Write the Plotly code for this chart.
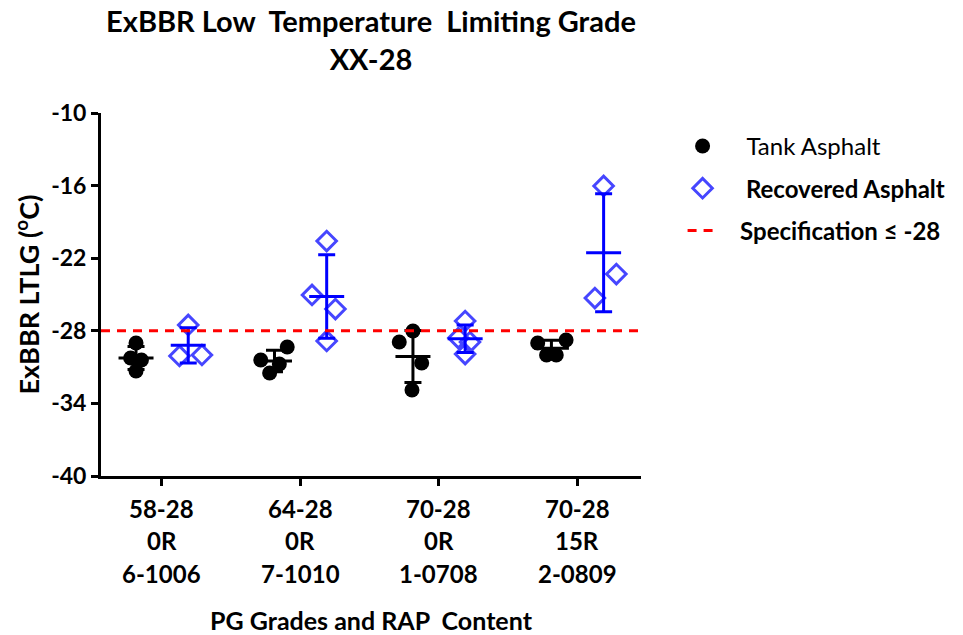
import numpy as np
import plotly.graph_objects as go

# ---- data ----
GRADES = ["58-28", "64-28", "70-28", "70-28"]
RAP = ["0R", "0R", "0R", "15R"]
SAMPLES = ["6-1006", "7-1010", "1-0708", "2-0809"]

TANK = [
    [-29.01, -30.25, -30.41, -31.32],
    [-29.34, -30.41, -30.74, -31.49],
    [-28.02, -28.93, -30.66, -32.89],
    [-29.01, -28.76, -30.00, -30.00],
]
RECOVERED = [
    [-27.52, -30.08, -30.00],
    [-20.58, -25.04, -26.20, -28.84],
    [-27.19, -28.60, -28.93, -29.92],
    [-16.03, -23.31, -25.29],
]
SPEC = -28
Y_TICKS = [-10, -16, -22, -28, -34, -40]

# ---- layout helpers (horizontal scatter of points within a column) ----
TANK_OFF = -0.187
REC_OFF = 0.19
TANK_JITTER = [
    [0, -0.039, 0.039, 0],
    [0.092, -0.099, 0.035, -0.035],
    [0, -0.099, 0.063, -0.007],
    [-0.099, 0.106, -0.035, 0.035],
]
REC_JITTER = [
    [0, -0.063, 0.099],
    [0, -0.106, 0.063, 0],
    [0, -0.049, 0.035, 0],
    [0, 0.092, -0.063],
]
X_RANGE = [-0.44, 3.46]
FONT = "Lato"
BLUE_MK = "#4646ff"
BLUE = "#0000ff"
NB = "\u00a0"

fig = go.Figure()

def pts(groups, jit, off):
    xs, ys = [], []
    for i, (g, j) in enumerate(zip(groups, jit)):
        for v, d in zip(g, j):
            xs.append(i + off + d)
            ys.append(v)
    return xs, ys

tx, ty = pts(TANK, TANK_JITTER, TANK_OFF)
rx, ry = pts(RECOVERED, REC_JITTER, REC_OFF)

fig.add_trace(go.Scatter(
    x=tx, y=ty, mode="markers", name=NB * 4 + "Tank Asphalt", legendgroup="a",
    marker=dict(symbol="circle", size=15, color="black"),
))
fig.add_trace(go.Scatter(
    x=rx, y=ry, mode="markers", name="<b>" + NB * 4 + "Recovered Asphalt</b>", legendgroup="b",
    marker=dict(symbol="diamond-open", size=15, color=BLUE_MK, line=dict(width=3, color=BLUE_MK)),
))

def stats(groups, off, color):
    xs = [i + off for i in range(len(groups))]
    m = [float(np.mean(g)) for g in groups]
    s = [float(np.std(g, ddof=1)) for g in groups]
    fig.add_trace(go.Scatter(
        x=xs, y=m, mode="markers", showlegend=False, hoverinfo="skip",
        marker=dict(symbol="line-ew", size=25, color=color, line=dict(width=3, color=color)),
        error_y=dict(type="data", array=s, visible=True, color=color, thickness=3, width=8.5),
    ))

stats(TANK, TANK_OFF, "black")
stats(RECOVERED, REC_OFF, BLUE)

fig.add_trace(go.Scatter(
    x=X_RANGE, y=[SPEC, SPEC], mode="lines", name="<b>" + NB * 3 + "Specification \u2264 -28</b>",
    legendgroup="c", line=dict(color="red", width=3, dash="9px,7px"), hoverinfo="skip",
))

annotations = []
for i, (g, r, s) in enumerate(zip(GRADES, RAP, SAMPLES)):
    for k, t in enumerate([g, r, s]):
        annotations.append(dict(
            x=i, y=0, xref="x", yref="paper", text="<b>%s</b>" % t, showarrow=False,
            yanchor="middle", xanchor="center", yshift=-32 - 32.5 * k,
            font=dict(family=FONT, size=24, color="black"),
        ))

fig.update_layout(
    width=963, height=635,
    margin=dict(l=101, r=309, t=113, b=159),
    paper_bgcolor="white", plot_bgcolor="white",
    font=dict(family=FONT, color="black"),
    title=dict(
        text="<b>ExBBR Low\u00a0 Temperature\u00a0 Limiting Grade<br>XX-28</b>",
        x=0.5, xref="paper", xanchor="center", yref="container", y=0.949, yanchor="middle",
        font=dict(family=FONT, size=29, color="black"),
    ),
    showlegend=True,
    legend=dict(
        x=1.077, y=0.97, xanchor="left", yanchor="top",
        font=dict(family=FONT, size=24, color="black"),
        tracegroupgap=8, bgcolor="rgba(0,0,0,0)",
    ),
    annotations=annotations,
)
fig.update_xaxes(
    range=X_RANGE, tickvals=list(range(len(GRADES))), showticklabels=False,
    showgrid=False, zeroline=False, showline=True, linecolor="black", linewidth=3,
    ticks="outside", ticklen=7, tickwidth=3, tickcolor="black",
    title=dict(text="<b>PG Grades and RAP\u00a0 Content</b>", standoff=128,
               font=dict(family=FONT, size=25, color="black")),
    automargin=False,
)
fig.update_yaxes(
    range=[-40, -10], tickvals=Y_TICKS, ticktext=["<b>%d</b>" % v for v in Y_TICKS],
    tickfont=dict(family=FONT, size=23, color="black"),
    showgrid=False, zeroline=False, showline=True, linecolor="black", linewidth=3,
    ticks="outside", ticklen=7, tickwidth=3, tickcolor="black",
    title=dict(text="<b>ExBBR LTLG (<sup>o</sup>C)</b>", standoff=4,
               font=dict(family=FONT, size=27, color="black")),
    automargin=False,
)

fig.write_html("out.html")
